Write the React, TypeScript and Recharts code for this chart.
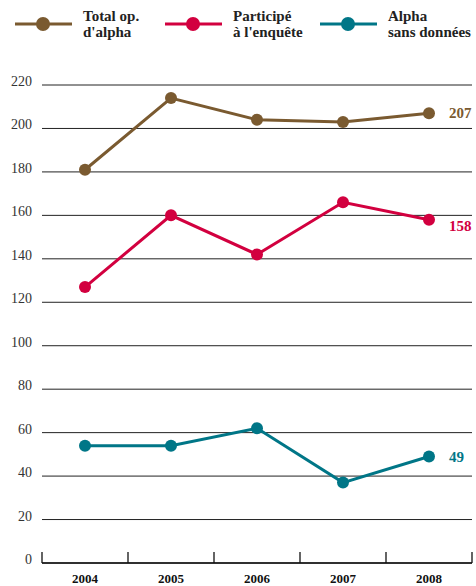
import { LineChart, Line, XAxis, YAxis, CartesianGrid, LabelList } from 'recharts'

const YEARS = ['2004', '2005', '2006', '2007', '2008']
const TOTAL = [181, 214, 204, 203, 207]
const PARTICIPE = [127, 160, 142, 166, 158]
const SANS_DONNEES = [54, 54, 62, 37, 49]
const Y_TICKS = [0, 20, 40, 60, 80, 100, 120, 140, 160, 180, 200, 220]

const SERIES = [
  { key: 'total', color: '#7a5a30', label: ['Total op.', "d'alpha"], dy: 0 },
  { key: 'participe', color: '#d2003f', label: ['Participé', "à l'enquête"], dy: 6 },
  { key: 'sans', color: '#007687', label: ['Alpha', 'sans données'], dy: 0 },
]

const data = YEARS.map((year, i) => ({
  year,
  total: TOTAL[i],
  participe: PARTICIPE[i],
  sans: SANS_DONNEES[i],
}))

const FONT = '"Liberation Serif", "DejaVu Serif", serif'

function YearTick(props: any) {
  const { x, y, payload, index, visibleTicksCount } = props
  const half = payload?.offset || 43
  const last = index === (visibleTicksCount ?? 5) - 1
  return (
    <g>
      <line x1={x - half} x2={x - half} y1={y} y2={y - 11} stroke="#111" strokeWidth={1.3} />
      {last && <line x1={x + half} x2={x + half} y1={y} y2={y - 11} stroke="#111" strokeWidth={1.3} />}
      <text x={x} y={y + 20} textAnchor="middle" fontFamily={FONT} fontWeight="bold" fontSize={13} fill="#111">
        {payload.value}
      </text>
    </g>
  )
}

function ValueTick(props: any) {
  const { x, y, payload } = props
  return (
    <text x={x} y={y + 1} textAnchor="end" fontFamily={FONT} fontSize={14} fill="#333">
      {payload.value}
    </text>
  )
}

function endLabel(color: string, dy: number) {
  return (props: any) => {
    const { x, y, value, index } = props
    if (index !== YEARS.length - 1) return null
    return (
      <text x={x + 20} y={y + dy + 5} fontFamily={FONT} fontWeight="bold" fontSize={15} fill={color}>
        {value}
      </text>
    )
  }
}

export default function App() {
  return (
    <div style={{ position: 'absolute', left: 0, top: 0, width: 476, height: 586, background: '#fff' }}>
      {/* Légende */}
      {SERIES.map((s, i) => {
        const left = [15, 165, 320][i]
        return (
          <div key={s.key} style={{ position: 'absolute', left, top: 8, display: 'flex', alignItems: 'center' }}>
            <svg width={58} height={30}>
              <line x1={0} x2={57} y1={15} y2={15} stroke={s.color} strokeWidth={3} />
              <circle cx={28} cy={15} r={7} fill={s.color} />
            </svg>
            <div style={{
              marginLeft: 10, fontFamily: FONT, fontWeight: 'bold', fontSize: 15,
              lineHeight: '16px', color: '#222',
            }}>
              {s.label[0]}<br />{s.label[1]}
            </div>
          </div>
        )
      })}

      <div style={{ position: 'absolute', left: 0, top: 0 }}>
        <LineChart width={476} height={586} data={data} margin={{ top: 85, right: 4, bottom: 0, left: 0 }}>
          <CartesianGrid vertical={false} stroke="#222" strokeWidth={1} />
          <XAxis
            dataKey="year"
            scale="band"
            height={23}
            axisLine={{ stroke: '#111', strokeWidth: 1.3 }}
            tickLine={false}
            tickSize={0}
            tickMargin={0}
            tick={<YearTick />}
            interval={0}
          />
          <YAxis
            width={42}
            domain={[0, 220]}
            ticks={Y_TICKS}
            axisLine={false}
            tickLine={false}
            tickSize={0}
            tickMargin={10}
            tick={<ValueTick />}
          />
          {SERIES.map((s) => (
            <Line
              key={s.key}
              dataKey={s.key}
              stroke={s.color}
              strokeWidth={3}
              dot={{ r: 6, fill: s.color, stroke: 'none' }}
              activeDot={false}
              isAnimationActive={false}
            >
              <LabelList dataKey={s.key} content={endLabel(s.color, s.dy)} />
            </Line>
          ))}
        </LineChart>
      </div>
    </div>
  )
}
